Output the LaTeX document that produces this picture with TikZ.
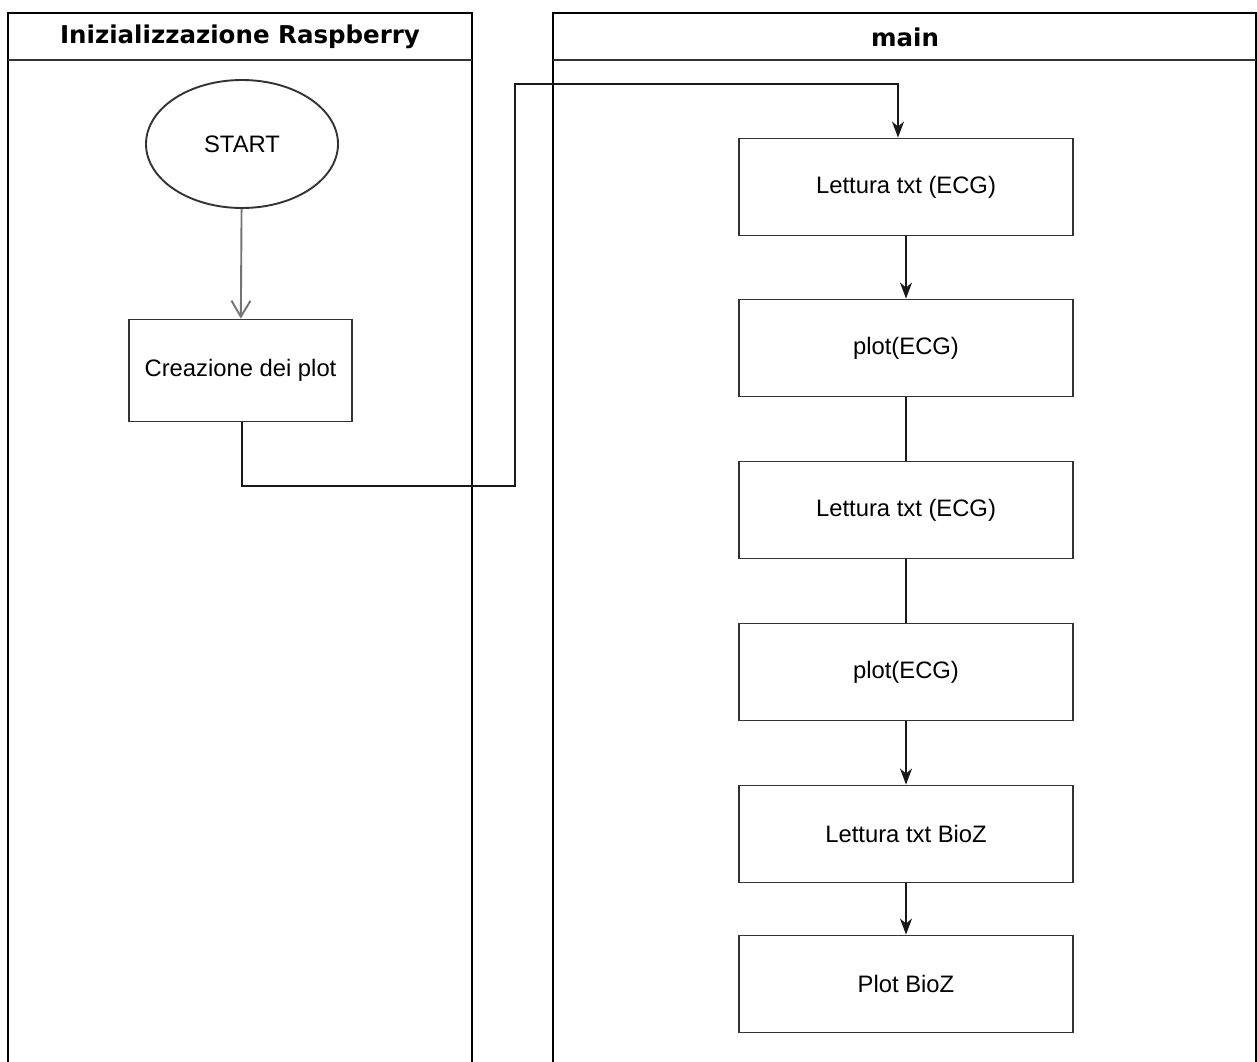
\documentclass[tikz,border=0pt]{standalone}
\usepackage{fontspec}
\setmainfont{Liberation Sans}
\newfontfamily\titlefont{DejaVu Sans}
\usetikzlibrary{arrows.meta,shapes.geometric}
\begin{document}
\begin{tikzpicture}[x=1pt,y=-1pt,
  lane/.style={draw=black,line width=2.4pt},
  lanetitle/.style={font=\titlefont\bfseries\fontsize{24.5}{28}\selectfont,anchor=center},
  stepbox/.style={draw=black!80,line width=1.9pt,rectangle,minimum width=334pt,minimum height=97pt,
    font=\fontsize{23.8}{28}\selectfont,inner sep=0pt},
  flow/.style={draw=black!90,line width=1.9pt},
  tip/.style={-{Stealth[length=16pt,width=12pt,inset=5pt]}},
]
\useasboundingbox (0,0) rectangle (1257,1061);
\begin{scope}
\clip (0,0) rectangle (1257,1061);
% swimlane: initialisation
\draw[lane] (8,1090) -- (8,13) -- (472,13) -- (472,1090);
\draw[draw=black!80,line width=1.9pt] (8,60) -- (472,60);
\node[lanetitle] (t1) at (240,37) {Inizializzazione Raspberry};
% swimlane: main
\draw[lane] (553,1090) -- (553,13) -- (1256,13) -- (1256,1090);
\draw[draw=black!80,line width=1.9pt] (553,60) -- (1256,60);
\node[lanetitle] (t2) at (905,37) {main};

% left flow
\node[draw=black!80,line width=1.9pt,ellipse,minimum width=192pt,minimum height=128pt,
  font=\fontsize{23.8}{28}\selectfont] (start) at (242,144) {START};
\node[stepbox,minimum width=223pt,minimum height=102pt] (crea) at (240.5,370.5) {Creazione dei plot};
\draw[draw=black!55,line width=1.9pt,-{Straight Barb[length=16pt,width=19pt,line width=1.9pt]}] (start) -- (crea);

% main flow
\node[stepbox] (l1) at (906,187) {Lettura txt (ECG)};
\node[stepbox] (p1) at (906,348) {plot(ECG)};
\node[stepbox] (l2) at (906,510) {Lettura txt (ECG)};
\node[stepbox] (p2) at (906,672) {plot(ECG)};
\node[stepbox] (lb) at (906,834) {Lettura txt BioZ};
\node[stepbox] (pb) at (906,984) {Plot BioZ};

\coordinate (c1) at (242,486);
\coordinate (c2) at (515,486);
\coordinate (c3) at (515,84);
\coordinate (c4) at (898,84);
\draw[flow,tip] (crea.south -| c1) -- (c1) -- (c2) -- (c3) -- (c4) -- (c4 |- l1.north);

\draw[flow,tip] (l1) -- (p1);
\draw[flow] (p1) -- (l2);
\draw[flow] (l2) -- (p2);
\draw[flow,tip] (p2) -- (lb);
\draw[flow,tip] (lb) -- (pb);
\end{scope}
\end{tikzpicture}
\end{document}
